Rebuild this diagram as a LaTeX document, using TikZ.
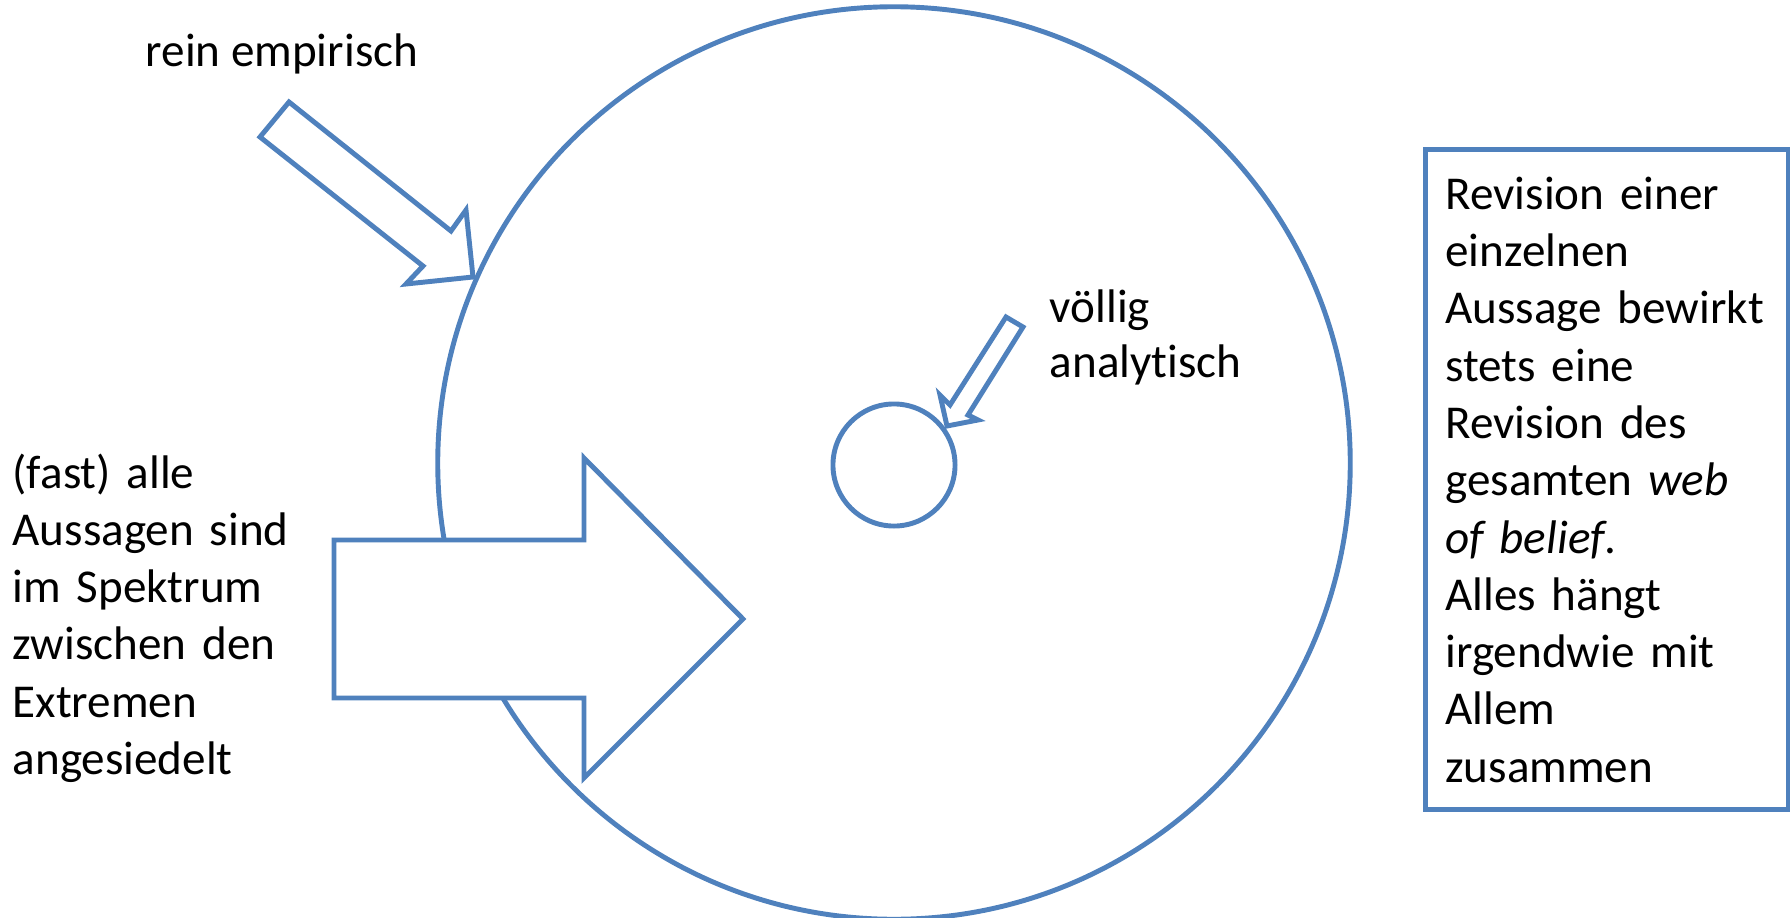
\documentclass[tikz,border=0pt]{standalone}
\usepackage{fontspec}
\setmainfont{Carlito}[Ligatures=NoCommon]
\usepackage{tikz}
\usetikzlibrary{positioning}

\definecolor{slideblue}{HTML}{4F81BD}
\newcommand{\slidefont}{\fontsize{13.4}{16.3}\selectfont}

\begin{document}
\begin{tikzpicture}[
        x=0.01cm, y=-0.01cm,
        outline/.style={draw=slideblue, line width=1.4pt},
        blockarrow/.style={outline, fill=white, line join=miter},
        txt/.style={inner sep=0pt, anchor=base west, align=left, font=\slidefont},
        infobox/.style={outline, rectangle, minimum width=3.63cm, minimum height=6.6cm, text width=3.23cm, inner xsep=0.2cm, align=left, font=\slidefont}
    ]
        \useasboundingbox (0,0) rectangle (1790,918);

        % Web of belief
        \node[outline, circle, minimum size=9.12cm, inner sep=0pt] (web) at (894,463) {};
        \node[outline, circle, minimum size=1.22cm, inner sep=0pt] (core) at (894,465) {};

        % Labels
        \node[txt] (empirical) at (145,66) {rein empirisch};
        \node[txt, text width=3cm] (analytic) at (1049,322) {v\"ollig\\[-0.6pt]analytisch};
        \node[txt, text width=3.2cm] (spectrum) at (12,488) {(fast) alle\\ Aussagen sind\\ im Spektrum\\ zwischen den\\ Extremen\\ angesiedelt};

        % Block arrows
        \draw[blockarrow] (289,102) -- (451,231) -- (466,210) -- (473,277) -- (406,284) -- (423,266) -- (260,137) -- cycle;
        \draw[blockarrow] (1006,317) -- (950,405) -- (940,395) -- (947,426) -- (978,420) -- (968,415) -- (1023,327) -- cycle;
        \draw[blockarrow] (334,540) -- (584,540) -- (584,458) -- (743,619) -- (584,778) -- (584,698) -- (334,698) -- cycle;

        % Revision box
        \node[infobox, anchor=north west] (revision) at (1423,147) {Revision einer\\ einzelnen\\ Aussage bewirkt\\ stets eine\\ Revision des\\ gesamten \emph{web}\\ \emph{of belief}.\\ Alles h\"angt\\ irgendwie mit\\ Allem\\ zusammen};
    \end{tikzpicture}
\end{document}
